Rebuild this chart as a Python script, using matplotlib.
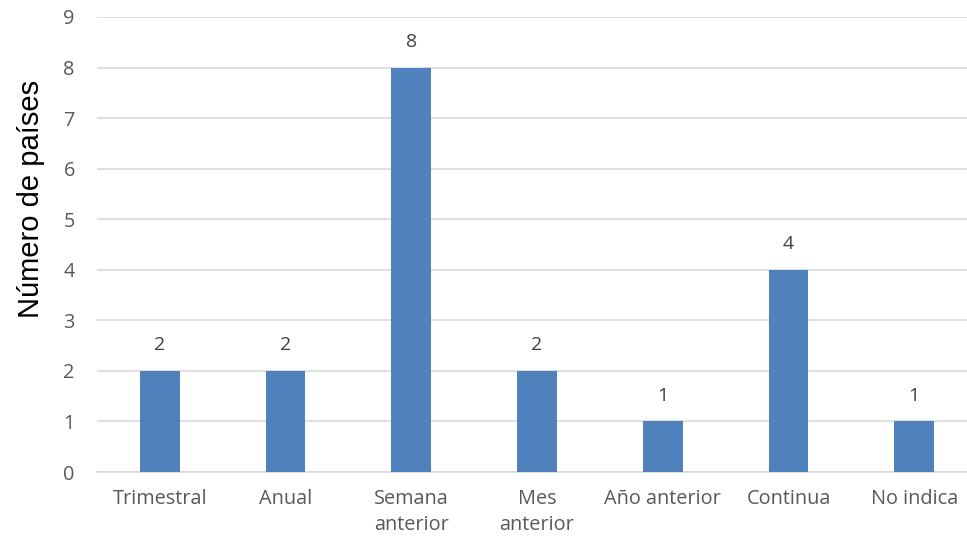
import matplotlib.pyplot as plt
import numpy as np

categorias = ["Trimestral", "Anual", "Semana\nanterior", "Mes\nanterior",
              "Año anterior", "Continua", "No indica"]
paises = [2, 2, 8, 2, 1, 4, 1]
yticks = list(range(0, 10))

fig = plt.figure(figsize=(9.67, 5.46), dpi=100)
ax = fig.add_axes([0.1003, 0.1355, 0.8997, 0.8334])

x = np.arange(len(categorias))
bars = ax.bar(x, paises, width=0.316, color="#4F81BD", zorder=3)

for b, v in zip(bars, paises):
    ax.text(b.get_x() + b.get_width() / 2, v + 0.33, str(v), ha="center", va="bottom",
            fontsize=14, color="#404040", family="Open Sans")

ax.set_xlim(-0.5, 6.42)
ax.set_ylim(0, 9)
ax.set_yticks(yticks)
ax.set_xticks(x)
ax.set_xticklabels(categorias, fontsize=14.3, color="#595959", family="Open Sans",
                   linespacing=1.45)
for lab in ax.get_yticklabels():
    lab.set_fontsize(14.3)
    lab.set_color("#595959")
    lab.set_family("Open Sans")
ax.tick_params(axis="both", length=0)
ax.tick_params(axis="y", pad=16)
ax.tick_params(axis="x", pad=12)
ax.grid(axis="y", color="#D9D9D9", lw=1.2, zorder=0)
for s in ["top", "right", "left"]:
    ax.spines[s].set_visible(False)
ax.spines["bottom"].set_color("#D9D9D9")
ax.spines["bottom"].set_linewidth(1.2)

ax.set_ylabel("Número de países", fontsize=21, family="Liberation Sans", color="black")
ax.yaxis.set_label_coords(-0.06, 0.6)

fig.savefig("out.png", dpi=100)
